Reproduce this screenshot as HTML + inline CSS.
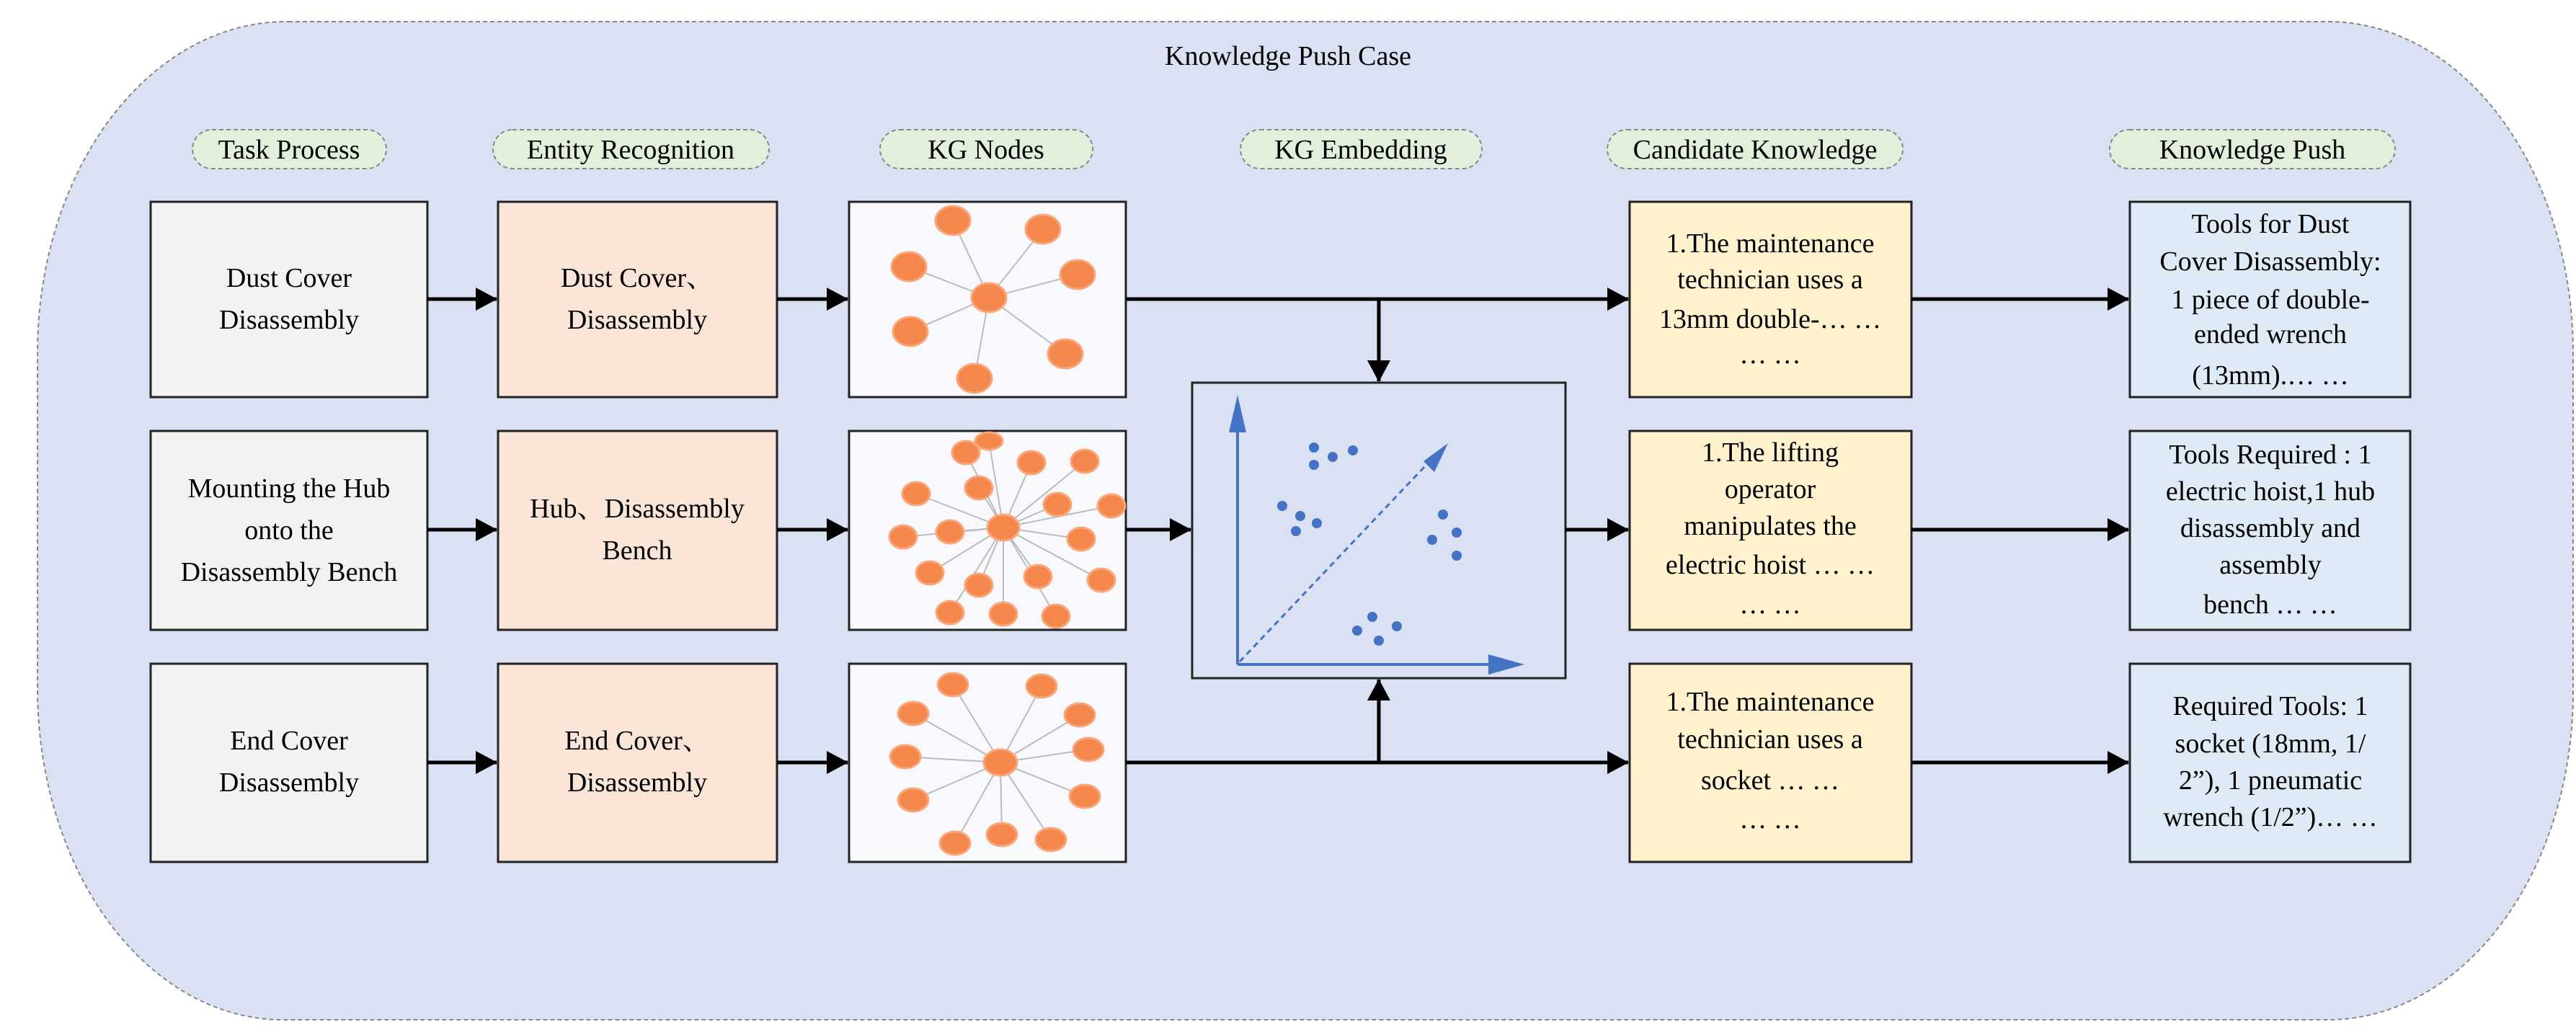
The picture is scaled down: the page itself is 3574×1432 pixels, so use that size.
<!DOCTYPE html>
<html><head><meta charset="utf-8"><style>
html,body{margin:0;padding:0;background:#fff}
svg{display:block}
text{font-family:"Liberation Serif","Times New Roman",Times,"DejaVu Serif","Noto Serif CJK SC",serif;font-size:38px;fill:#000}
</style></head><body>
<svg width="3574" height="1432" viewBox="0 0 3574 1432" xmlns="http://www.w3.org/2000/svg">
<defs>
<marker id="ah" markerWidth="30" markerHeight="32" refX="29" refY="16" orient="auto" markerUnits="userSpaceOnUse" viewBox="0 0 30 32"><path d="M0,0 L30,16 L0,32 z" fill="#000"/></marker>
</defs>
<path d="M400,30 H3230 A340,460 0 0 1 3570,490 V960 A340,455 0 0 1 3230,1415 H390 A340,460 0 0 1 52,955 V490 A345,460 0 0 1 400,30 Z" fill="#dae1f3" stroke="#888" stroke-width="2" stroke-dasharray="6,4"/>
<text x="1787" y="90" text-anchor="middle">Knowledge Push Case</text>
<g fill="#e2efda" stroke="#888" stroke-width="2" stroke-dasharray="6,4">
<rect x="267" y="180" width="269" height="54" rx="27"/>
<rect x="684" y="180" width="383" height="54" rx="27"/>
<rect x="1221" y="180" width="295" height="54" rx="27"/>
<rect x="1721" y="180" width="335" height="54" rx="27"/>
<rect x="2230" y="180" width="410" height="54" rx="27"/>
<rect x="2927" y="180" width="396" height="54" rx="27"/>
</g>
<g text-anchor="middle">
<text x="401" y="220">Task Process</text>
<text x="875" y="220">Entity Recognition</text>
<text x="1368" y="220">KG Nodes</text>
<text x="1888" y="220">KG Embedding</text>
<text x="2435" y="220">Candidate Knowledge</text>
<text x="3125" y="220">Knowledge Push</text>
</g>
<g stroke="#222" stroke-width="3">
<rect x="209" y="280" width="384" height="271" fill="#f2f2f2"/>
<rect x="209" y="598" width="384" height="276" fill="#f2f2f2"/>
<rect x="209" y="921" width="384" height="275" fill="#f2f2f2"/>
<rect x="691" y="280" width="387" height="271" fill="#fbe5d6"/>
<rect x="691" y="598" width="387" height="276" fill="#fbe5d6"/>
<rect x="691" y="921" width="387" height="275" fill="#fbe5d6"/>
<rect x="1178" y="280" width="384" height="271" fill="#f7f9fc"/>
<rect x="1178" y="598" width="384" height="276" fill="#f7f9fc"/>
<rect x="1178" y="921" width="384" height="275" fill="#f7f9fc"/>
<rect x="1654" y="531" width="518" height="410" fill="#dae1f3"/>
<rect x="2261" y="280" width="391" height="271" fill="#fff2cc"/>
<rect x="2261" y="598" width="391" height="276" fill="#fff2cc"/>
<rect x="2261" y="921" width="391" height="275" fill="#fff2cc"/>
<rect x="2955" y="280" width="389" height="271" fill="#deebf7"/>
<rect x="2955" y="598" width="389" height="276" fill="#deebf7"/>
<rect x="2955" y="921" width="389" height="275" fill="#deebf7"/>
</g>
<g stroke="#000" stroke-width="5" fill="none" marker-end="url(#ah)">
<path d="M593,415 H689" /><path d="M1078,415 H1176"/>
<path d="M593,735 H689" /><path d="M1078,735 H1176"/>
<path d="M593,1058 H689" /><path d="M1078,1058 H1176"/>
<path d="M1562,415 H2259"/><path d="M1913,415 V529"/>
<path d="M1562,735 H1652"/><path d="M2172,735 H2259"/>
<path d="M1562,1058 H2259"/><path d="M1913,1058 V943"/>
<path d="M2652,415 H2953"/><path d="M2652,735 H2953"/><path d="M2652,1058 H2953"/>
</g>
<g stroke="#bbb" stroke-width="2">
<path d="M1372,413 L1322,306 M1372,413 L1447,318 M1372,413 L1261,370 M1372,413 L1495,381 M1372,413 L1263,460 M1372,413 L1478,491 M1372,413 L1352,525"/>
<path d="M1392,732 L1340,628 M1392,732 L1372,612 M1392,732 L1431,642 M1392,732 L1505,640 M1392,732 L1271,685 M1392,732 L1358,677 M1392,732 L1467,700 M1392,732 L1542,702 M1392,732 L1253,745 M1392,732 L1318,738 M1392,732 L1500,748 M1392,732 L1290,795 M1392,732 L1358,812 M1392,732 L1440,800 M1392,732 L1528,805 M1392,732 L1318,850 M1392,732 L1392,852 M1392,732 L1465,855"/>
<path d="M1388,1058 L1322,950 M1388,1058 L1445,952 M1388,1058 L1267,990 M1388,1058 L1498,992 M1388,1058 L1256,1050 M1388,1058 L1510,1040 M1388,1058 L1267,1110 M1388,1058 L1505,1105 M1388,1058 L1325,1170 M1388,1058 L1390,1158 M1388,1058 L1458,1165"/>
</g>
<g fill="#f4874b" stroke="#f9a77a" stroke-width="3">
<ellipse cx="1372" cy="413" rx="24" ry="20"/><ellipse cx="1322" cy="306" rx="24" ry="20"/><ellipse cx="1447" cy="318" rx="24" ry="20"/><ellipse cx="1261" cy="370" rx="24" ry="20"/><ellipse cx="1495" cy="381" rx="24" ry="20"/><ellipse cx="1263" cy="460" rx="24" ry="20"/><ellipse cx="1478" cy="491" rx="24" ry="20"/><ellipse cx="1352" cy="525" rx="24" ry="20"/>
<ellipse cx="1392" cy="732" rx="22" ry="18"/><ellipse cx="1340" cy="628" rx="19" ry="16"/><ellipse cx="1372" cy="612" rx="19" ry="12"/><ellipse cx="1431" cy="642" rx="19" ry="16"/><ellipse cx="1505" cy="640" rx="19" ry="16"/><ellipse cx="1271" cy="685" rx="19" ry="16"/><ellipse cx="1358" cy="677" rx="19" ry="16"/><ellipse cx="1467" cy="700" rx="19" ry="16"/><ellipse cx="1542" cy="702" rx="19" ry="16"/><ellipse cx="1253" cy="745" rx="19" ry="16"/><ellipse cx="1318" cy="738" rx="19" ry="16"/><ellipse cx="1500" cy="748" rx="19" ry="16"/><ellipse cx="1290" cy="795" rx="19" ry="16"/><ellipse cx="1358" cy="812" rx="19" ry="16"/><ellipse cx="1440" cy="800" rx="19" ry="16"/><ellipse cx="1528" cy="805" rx="19" ry="16"/><ellipse cx="1318" cy="850" rx="19" ry="16"/><ellipse cx="1392" cy="852" rx="19" ry="16"/><ellipse cx="1465" cy="855" rx="19" ry="16"/>
<ellipse cx="1388" cy="1058" rx="23" ry="18"/><ellipse cx="1322" cy="950" rx="21" ry="16"/><ellipse cx="1445" cy="952" rx="21" ry="16"/><ellipse cx="1267" cy="990" rx="21" ry="16"/><ellipse cx="1498" cy="992" rx="21" ry="16"/><ellipse cx="1256" cy="1050" rx="21" ry="16"/><ellipse cx="1510" cy="1040" rx="21" ry="16"/><ellipse cx="1267" cy="1110" rx="21" ry="16"/><ellipse cx="1505" cy="1105" rx="21" ry="16"/><ellipse cx="1325" cy="1170" rx="21" ry="16"/><ellipse cx="1390" cy="1158" rx="21" ry="16"/><ellipse cx="1458" cy="1165" rx="21" ry="16"/>
</g>
<g stroke="#4472c4" stroke-width="4" fill="none">
<path d="M1717,922 V590"/>
<path d="M1717,922 H2075"/>
<path d="M1720,918 L1995,628" stroke-width="3" stroke-dasharray="8,6"/>
<path d="M1975,640 L2009,615 L1990,655 z" fill="#4472c4" stroke="none"/>
</g>
<path d="M1705,600 L1717,548 L1729,600 z" fill="#4472c4"/>
<path d="M2065,908 L2115,922 L2065,936 z" fill="#4472c4"/>
<g fill="#4472c4">
<circle cx="1823" cy="621" r="7"/><circle cx="1849" cy="634" r="7"/><circle cx="1877" cy="625" r="7"/><circle cx="1823" cy="645" r="7"/>
<circle cx="1779" cy="702" r="7"/><circle cx="1804" cy="716" r="7"/><circle cx="1827" cy="726" r="7"/><circle cx="1798" cy="737" r="7"/>
<circle cx="2002" cy="714" r="7"/><circle cx="2021" cy="739" r="7"/><circle cx="1987" cy="749" r="7"/><circle cx="2021" cy="771" r="7"/>
<circle cx="1904" cy="856" r="7"/><circle cx="1883" cy="875" r="7"/><circle cx="1938" cy="869" r="7"/><circle cx="1913" cy="889" r="7"/>
</g>
<g text-anchor="middle">
<text x="401" y="398">Dust Cover</text><text x="401" y="456">Disassembly</text>
<text x="401" y="690">Mounting the Hub</text><text x="401" y="748">onto the</text><text x="401" y="806">Disassembly Bench</text>
<text x="401" y="1040">End Cover</text><text x="401" y="1098">Disassembly</text>
<text x="884" y="398">Dust Cover、</text><text x="884" y="456">Disassembly</text>
<text x="884" y="718">Hub、Disassembly</text><text x="884" y="776">Bench</text>
<text x="884" y="1040">End Cover、</text><text x="884" y="1098">Disassembly</text>
<text x="2456" y="350">1.The maintenance</text><text x="2456" y="400">technician uses a</text><text x="2456" y="455">13mm double-… …</text><text x="2456" y="504">… …</text>
<text x="2456" y="640">1.The lifting</text><text x="2456" y="691">operator</text><text x="2456" y="742">manipulates the</text><text x="2456" y="796">electric hoist  … …</text><text x="2456" y="851">… …</text>
<text x="2456" y="986">1.The maintenance</text><text x="2456" y="1038">technician uses a</text><text x="2456" y="1095">socket … …</text><text x="2456" y="1149">… …</text>
<text x="3150" y="323">Tools for Dust</text><text x="3150" y="375">Cover Disassembly:</text><text x="3150" y="428">1 piece of double-</text><text x="3150" y="476">ended wrench</text><text x="3150" y="533">(13mm).… …</text>
<text x="3150" y="643">Tools Required : 1</text><text x="3150" y="694">electric hoist,1 hub</text><text x="3150" y="745">disassembly and</text><text x="3150" y="796">assembly</text><text x="3150" y="851">bench … …</text>
<text x="3150" y="992">Required Tools: 1</text><text x="3150" y="1044">socket (18mm, 1/</text><text x="3150" y="1095">2”), 1 pneumatic</text><text x="3150" y="1146">wrench (1/2”)… …</text>
</g>
</svg>
</body></html>
